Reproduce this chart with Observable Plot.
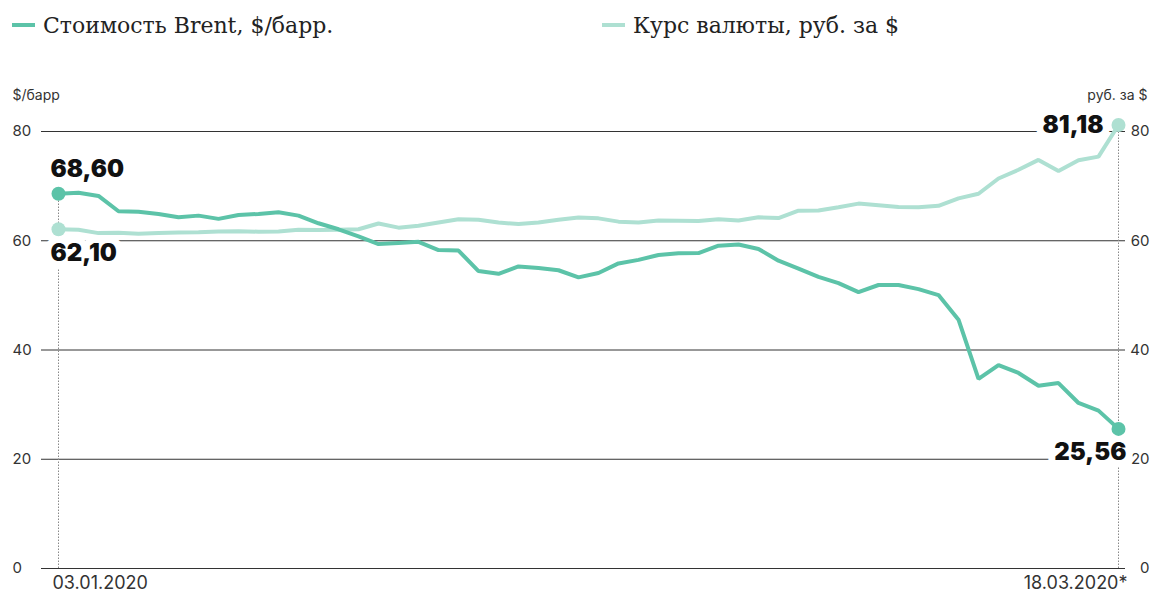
<!DOCTYPE html>
<html>
<head>
<meta charset="utf-8">
<script src="https://cdn.jsdelivr.net/npm/d3@7"></script>
<script src="https://cdn.jsdelivr.net/npm/@observablehq/plot@0.6"></script>
<style>
  html, body { margin: 0; padding: 0; background: #fff; }
  #legend { position: relative; width: 1151px; height: 50px; font-family: "DejaVu Serif", "Liberation Serif", serif; font-size: 22px; color: #222; }
  .item { position: absolute; top: 0; height: 50px; display: flex; align-items: center; white-space: nowrap; }
  .sw { display: inline-block; width: 23px; height: 4px; margin-right: 8px; }
  #chart svg { display: block; }
</style>
</head>
<body>
<div id="legend"></div>
<div id="chart"></div>
<script>
// ---- data ----
const dates = [
  "03.01.2020","06.01.2020","07.01.2020","08.01.2020","09.01.2020","10.01.2020",
  "13.01.2020","14.01.2020","15.01.2020","16.01.2020","17.01.2020",
  "20.01.2020","21.01.2020","22.01.2020","23.01.2020","24.01.2020",
  "27.01.2020","28.01.2020","29.01.2020","30.01.2020","31.01.2020",
  "03.02.2020","04.02.2020","05.02.2020","06.02.2020","07.02.2020",
  "10.02.2020","11.02.2020","12.02.2020","13.02.2020","14.02.2020",
  "17.02.2020","18.02.2020","19.02.2020","20.02.2020","21.02.2020",
  "24.02.2020","25.02.2020","26.02.2020","27.02.2020","28.02.2020",
  "02.03.2020","03.03.2020","04.03.2020","05.03.2020","06.03.2020",
  "09.03.2020","10.03.2020","11.03.2020","12.03.2020","13.03.2020",
  "16.03.2020","17.03.2020","18.03.2020"
];
const brent = [
  68.60, 68.8, 68.2, 65.4, 65.3, 64.9, 64.3, 64.6, 64.0, 64.7,
  64.9, 65.2, 64.6, 63.2, 62.1, 60.8, 59.4, 59.6, 59.8, 58.3,
  58.2, 54.45, 53.95, 55.3, 55.0, 54.6, 53.3, 54.1, 55.85, 56.5,
  57.4, 57.7, 57.75, 59.1, 59.3, 58.5, 56.35, 54.9, 53.4, 52.25,
  50.6, 51.9, 51.9, 51.15, 50.05, 45.55, 34.7, 37.25, 35.8, 33.45,
  33.95, 30.3, 28.9, 25.56
];
const rub = [
  62.10, 62.0, 61.4, 61.45, 61.3, 61.4, 61.5, 61.55, 61.7, 61.75,
  61.65, 61.7, 62.0, 61.95, 62.0, 62.1, 63.15, 62.4, 62.75, 63.35,
  63.95, 63.85, 63.35, 63.05, 63.35, 63.85, 64.25, 64.1, 63.5, 63.35,
  63.7, 63.65, 63.6, 63.95, 63.7, 64.3, 64.15, 65.5, 65.55, 66.15,
  66.8, 66.5, 66.2, 66.15, 66.4, 67.75, 68.6, 71.4, 73.0, 74.8,
  72.75, 74.75, 75.4, 81.18
];
const seriesNames = ["Стоимость Brent, $/барр.", "Курс валюты, руб. за $"];
const yTicks = [0, 20, 40, 60, 80];
const unitLeft = "$/барр";
const unitRight = "руб. за $";
const endLabels = ["03.01.2020", "18.03.2020*"];

// ---- styling ----
const brentColor = "#5cc3a8";
const rubColor = "#aee0d2";

// legend
const legend = document.getElementById("legend");
[[seriesNames[0], brentColor, 12], [seriesNames[1], rubColor, 602]].forEach(([name, col, left]) => {
  const it = document.createElement("div");
  it.className = "item";
  it.style.left = left + "px";
  it.innerHTML = `<span class="sw" style="background:${col}"></span><span>${name}</span>`;
  legend.appendChild(it);
});

const last = dates.length - 1;
const rows = dates.map((d, i) => ({i, date: d, brent: brent[i], rub: rub[i]}));
const fmt = v => d3.format(".2f")(v).replace(".", ",");
const ends = [{i: 0, top: Math.max(brent[0], rub[0])}, {i: last, top: Math.max(brent[last], rub[last])}];
const dots = [
  {i: 0, v: brent[0], c: brentColor}, {i: 0, v: rub[0], c: rubColor},
  {i: last, v: brent[last], c: brentColor}, {i: last, v: rub[last], c: rubColor}
];

const labelFont = {fontFamily: "Inter, sans-serif", fontWeight: 900, fontSize: 24, fill: "#111", stroke: "white", strokeWidth: 14};

const chart = Plot.plot({
  width: 1151,
  height: 543,
  marginLeft: 41,
  marginRight: 26,
  marginTop: 81,
  marginBottom: 25,
  x: {domain: [-0.85, last + 0.35], axis: null},
  y: {domain: [0, 80], axis: null},
  style: {fontFamily: "Inter, sans-serif", background: "#fff", overflow: "visible"},
  marks: [
    Plot.ruleY(yTicks, {stroke: "#333", strokeWidth: 1}),
    Plot.text(yTicks, {y: d => d, text: d => String(d), frameAnchor: "left", textAnchor: "start", dx: -29, fontSize: 15, fill: "#333"}),
    Plot.text(yTicks, {y: d => d, text: d => String(d), frameAnchor: "right", textAnchor: "end", dx: 24, fontSize: 15, fill: "#333"}),
    Plot.ruleX(ends, {x: "i", y1: 0, y2: "top", stroke: "#888", strokeWidth: 1, strokeDasharray: "1.5,1.5"}),
    Plot.text([unitLeft], {frameAnchor: "top-left", lineAnchor: "middle", textAnchor: "start", dx: -29, dy: -36, fontSize: 14, fill: "#333"}),
    Plot.text([unitRight], {frameAnchor: "top-right", lineAnchor: "middle", textAnchor: "end", dx: 22, dy: -36, fontSize: 14, fill: "#333"}),
    Plot.text([endLabels[0]], {x: () => 0, frameAnchor: "bottom", lineAnchor: "middle", textAnchor: "start", dx: -6, dy: 15, fontSize: 18, fill: "#333"}),
    Plot.text([endLabels[1]], {x: () => last, frameAnchor: "bottom", lineAnchor: "middle", textAnchor: "end", dx: 9, dy: 15, fontSize: 18, fill: "#333"}),
    // value annotations
    Plot.text([{i: 0, v: brent[0]}], {x: "i", y: "v", text: d => fmt(d.v), textAnchor: "start", dx: -8, dy: -24, ...labelFont}),
    Plot.text([{i: 0, v: rub[0]}], {x: "i", y: "v", text: d => fmt(d.v), textAnchor: "start", dx: -8, dy: 24, ...labelFont}),
    Plot.text([{i: last, v: rub[last]}], {x: "i", y: "v", text: d => fmt(d.v), textAnchor: "end", dx: -15, dy: 0, ...labelFont}),
    Plot.text([{i: last, v: brent[last]}], {x: "i", y: "v", text: d => fmt(d.v), textAnchor: "end", dx: 8, dy: 23, ...labelFont}),
    Plot.line(rows, {x: "i", y: "rub", stroke: rubColor, strokeWidth: 4, strokeLinejoin: "miter"}),
    Plot.line(rows, {x: "i", y: "brent", stroke: brentColor, strokeWidth: 4, strokeLinejoin: "miter"}),
    Plot.dot(dots, {x: "i", y: "v", r: 7, fill: "c", stroke: null})
  ]
});
document.getElementById("chart").appendChild(chart);
</script>
</body>
</html>
